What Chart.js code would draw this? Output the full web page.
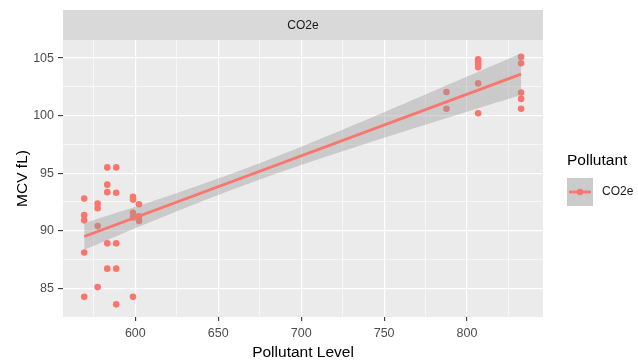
<!DOCTYPE html>
<html>
<head>
<meta charset="utf-8">
<script src="https://cdn.jsdelivr.net/npm/chart.js@4"></script>
<style>
  html, body { margin: 0; padding: 0; background: #fff; }
  canvas { display: block; }
</style>
</head>
<body>
<canvas id="myChart" width="638" height="360"></canvas>
<script>
const ctx = document.getElementById('myChart');

// observed points (pollutant level, MCV)
const pointX = [
  569.2, 569.2, 569.2, 569.2, 569.2,
  577.3, 577.3, 577.3, 577.3,
  583.1, 583.1, 583.1, 583.1, 583.1,
  588.5, 588.5, 588.5, 588.5, 588.5,
  598.6, 598.6, 598.6, 598.6, 598.6,
  602.2, 602.2, 602.2,
  787.6, 787.6,
  806.7, 806.7, 806.7, 806.7, 806.7, 806.7,
  832.6, 832.6, 832.6, 832.6, 832.6
];
const pointY = [
  92.8, 91.35, 90.9, 88.1, 84.25,
  92.35, 91.95, 90.4, 85.1,
  95.5, 94.0, 93.35, 88.9, 86.7,
  95.5, 93.3, 88.9, 86.7, 83.6,
  92.95, 92.7, 91.55, 91.15, 84.25,
  92.3, 91.25, 90.85,
  102.05, 100.6,
  104.9, 104.7, 104.45, 104.2, 102.8, 100.2,
  105.1, 104.55, 102.0, 101.45, 100.6
];

// fitted line and its confidence band
const fitX = [569.2, 832.6];
const fitY = [89.5, 103.6];
const bandX = [569.2, 600, 630, 662, 700, 750, 800, 832.6];
const bandUpper = [90.66, 92.08, 93.52, 95.16, 97.29, 100.29, 103.39, 105.42];
const bandLower = [88.34, 90.22, 91.98, 93.76, 95.71, 98.07, 100.33, 101.78];

const xMajor = [600, 650, 700, 750, 800];
const xMinor = [575, 625, 675, 725, 775, 825];
const yMajor = [85, 90, 95, 100, 105];
const yMinor = [87.5, 92.5, 97.5, 102.5];

const seriesName = 'CO2e';
const red = '#F8766D';
const font = '"Liberation Sans", Arial, sans-serif';

function pairs(xs, ys) {
  return xs.map((x, i) => ({ x: x, y: ys[i] }));
}

function isMinor(list, v) {
  return list.some(m => Math.abs(m - v) < 1e-6);
}

const panelPlugin = {
  id: 'panel',
  beforeDraw(chart) {
    const c = chart.ctx;
    const a = chart.chartArea;
    c.save();
    c.fillStyle = '#ffffff';
    c.fillRect(0, 0, chart.width, chart.height);
    c.fillStyle = '#EBEBEB';
    c.fillRect(a.left, a.top, a.right - a.left, a.bottom - a.top);
    // facet strip
    c.fillStyle = '#D9D9D9';
    c.fillRect(a.left, 10, a.right - a.left, a.top - 10);
    c.fillStyle = '#1A1A1A';
    c.font = '12px ' + font;
    c.textAlign = 'center';
    c.textBaseline = 'middle';
    c.fillText(seriesName, (a.left + a.right) / 2, 26);
    c.restore();
  },
  afterDraw(chart) {
    const c = chart.ctx;
    c.save();
    c.fillStyle = '#000000';
    c.font = '15.5px ' + font;
    c.textAlign = 'left';
    c.textBaseline = 'middle';
    c.fillText('Pollutant', 567, 161);
    c.fillStyle = '#CBCBCB';
    c.fillRect(567, 178, 26, 28);
    c.strokeStyle = red;
    c.lineWidth = 2.8;
    c.beginPath();
    c.moveTo(569, 192);
    c.lineTo(591, 192);
    c.stroke();
    c.fillStyle = red;
    c.beginPath();
    c.arc(580, 192, 3.2, 0, Math.PI * 2);
    c.fill();
    c.fillStyle = '#1A1A1A';
    c.font = '12px ' + font;
    c.fillText(seriesName, 602, 192);
    c.restore();
  }
};

new Chart(ctx, {
  type: 'scatter',
  data: {
    datasets: [
      {
        label: seriesName,
        data: pairs(fitX, fitY),
        showLine: true,
        borderColor: red,
        borderWidth: 2.8,
        pointRadius: 0,
        order: 0
      },
      {
        label: 'lower',
        data: pairs(bandX, bandLower),
        showLine: true,
        borderWidth: 0,
        borderColor: 'rgba(0,0,0,0)',
        pointRadius: 0,
        tension: 0.3,
        order: 1
      },
      {
        label: 'upper',
        data: pairs(bandX, bandUpper),
        showLine: true,
        borderWidth: 0,
        borderColor: 'rgba(0,0,0,0)',
        backgroundColor: 'rgba(153,153,153,0.4)',
        fill: '-1',
        pointRadius: 0,
        tension: 0.3,
        order: 1
      },
      {
        label: 'points',
        data: pairs(pointX, pointY),
        backgroundColor: red,
        borderWidth: 0,
        pointRadius: 3.3,
        order: 2
      }
    ]
  },
  options: {
    responsive: false,
    animation: false,
    layout: { padding: { top: 40, right: 95, left: 0, bottom: 0 } },
    plugins: {
      legend: { display: false },
      tooltip: { enabled: false }
    },
    scales: {
      x: {
        type: 'linear',
        min: 556.4,
        max: 845.8,
        afterBuildTicks: scale => {
          scale.ticks = xMajor.concat(xMinor).sort((a, b) => a - b).map(v => ({ value: v }));
        },
        afterFit: scale => { scale.height = 43; },
        border: { display: false },
        grid: {
          color: '#ffffff',
          lineWidth: c => isMinor(xMinor, c.tick.value) ? 0.6 : 1.2,
          tickColor: c => isMinor(xMinor, c.tick.value) ? 'rgba(0,0,0,0)' : '#333333',
          tickWidth: 1.1,
          tickLength: 4
        },
        ticks: {
          color: '#4D4D4D',
          font: { family: font, size: 12.5 },
          padding: 5,
          maxRotation: 0,
          autoSkip: false,
          callback: v => isMinor(xMinor, v) ? '' : String(v)
        },
        title: {
          display: true,
          text: 'Pollutant Level',
          color: '#000000',
          font: { family: font, size: 15.5 },
          padding: { top: 0, bottom: -2 }
        }
      },
      y: {
        type: 'linear',
        min: 82.5,
        max: 106.57,
        afterBuildTicks: scale => {
          scale.ticks = yMajor.concat(yMinor).sort((a, b) => a - b).map(v => ({ value: v }));
        },
        afterFit: scale => { scale.width = 63; },
        border: { display: false },
        grid: {
          color: '#ffffff',
          lineWidth: c => isMinor(yMinor, c.tick.value) ? 0.6 : 1.2,
          tickColor: c => isMinor(yMinor, c.tick.value) ? 'rgba(0,0,0,0)' : '#333333',
          tickWidth: 1.1,
          tickLength: 5
        },
        ticks: {
          color: '#4D4D4D',
          font: { family: font, size: 12.5 },
          padding: 4,
          autoSkip: false,
          callback: v => isMinor(yMinor, v) ? '' : String(v)
        },
        title: {
          display: true,
          text: 'MCV fL)',
          color: '#000000',
          font: { family: font, size: 15.5 },
          padding: { top: 13, bottom: 0 }
        }
      }
    }
  },
  plugins: [panelPlugin]
});
</script>
</body>
</html>
